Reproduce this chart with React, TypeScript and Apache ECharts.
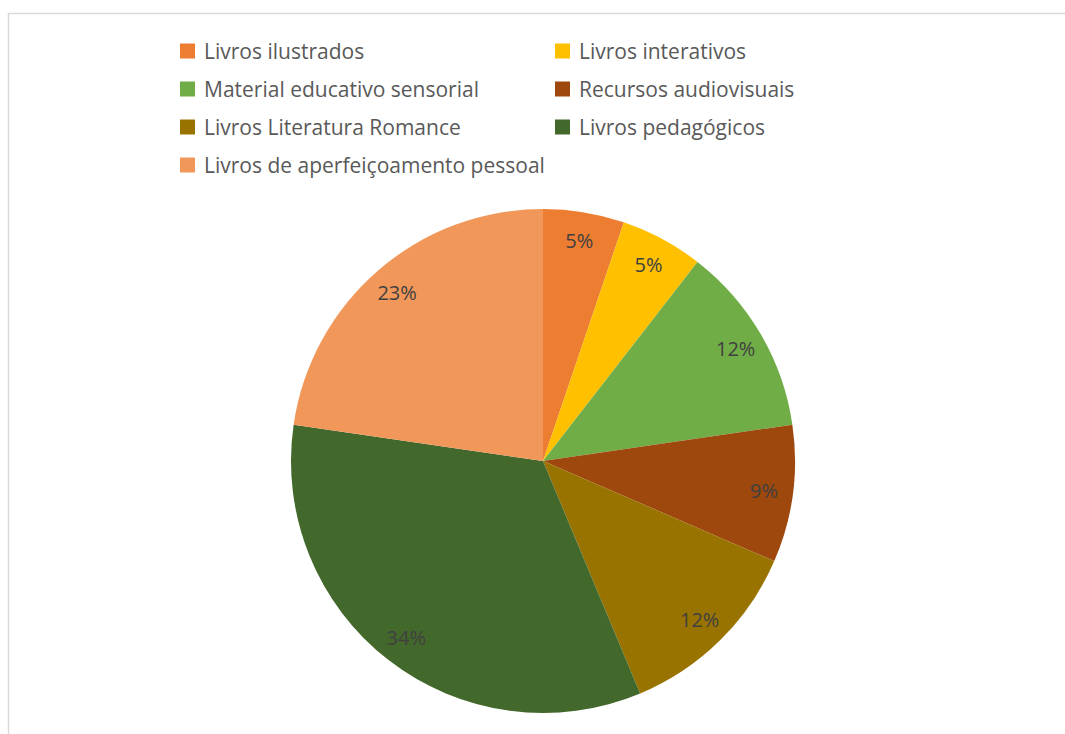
import React, { useEffect, useRef } from "react";
import * as echarts from "echarts";

const categories = [
  "Livros ilustrados",
  "Livros interativos",
  "Material educativo sensorial",
  "Recursos audiovisuais",
  "Livros Literatura Romance",
  "Livros pedagógicos",
  "Livros de aperfeiçoamento pessoal",
];
const values = [5.2, 5.3, 12.2, 8.8, 12.2, 33.6, 22.7];
const colors = ["#ED7D31", "#FFC000", "#70AD47", "#9E480E", "#997300", "#43682B", "#F1975A"];

export default function App() {
  const ref = useRef<HTMLDivElement>(null);
  useEffect(() => {
    const chart = echarts.init(ref.current!, null, { renderer: "svg" });
    const data = categories.map((name, i) => ({ name, value: values[i], itemStyle: { color: colors[i] } }));
    const font = "'Open Sans', sans-serif";
    const legendCommon = {
      orient: "vertical" as const,
      icon: "rect",
      itemWidth: 15,
      itemHeight: 15,
      itemGap: 16,
      textStyle: { fontFamily: font, fontSize: 21, color: "#595959", lineHeight: 22, padding: [0, 0, 0, 4] },
      padding: 0,
      selectedMode: false,
    };
    chart.setOption({
      animation: false,
      graphic: [
        {
          type: "rect",
          shape: { x: 8.5, y: 13.5, width: 1100, height: 800 },
          style: { fill: "none", stroke: "#d9d9d9", lineWidth: 1.5 },
          silent: true,
        },
      ],
      legend: [
        { ...legendCommon, left: 180, top: 40, data: [categories[0], categories[2], categories[4], categories[6]] },
        { ...legendCommon, left: 555, top: 40, data: [categories[1], categories[3], categories[5]] },
      ],
      series: [
        {
          type: "pie",
          center: [543, 461],
          radius: [0, 252],
          startAngle: 90,
          clockwise: true,
          data,
          label: { show: false },
          labelLine: { show: false },
          itemStyle: { borderWidth: 0 },
          silent: true,
        },
        {
          type: "pie",
          center: [543, 461],
          radius: [188, 252],
          startAngle: 90,
          clockwise: true,
          data: categories.map((name, i) => ({ name, value: values[i] })),
          itemStyle: { color: "rgba(0,0,0,0)", borderWidth: 0 },
          percentPrecision: 1,
          label: {
            show: true,
            position: "inside",
            formatter: (p: any) => Math.round(p.percent) + "%",
            fontFamily: font,
            fontSize: 20,
            color: "#404040",
          },
          labelLine: { show: false },
          silent: true,
          legendHoverLink: false,
        },
      ],
    });
    return () => chart.dispose();
  }, []);
  return <div ref={ref} style={{ position: "fixed", left: 0, top: 0, width: 1065, height: 734, background: "#fff" }} />;
}
